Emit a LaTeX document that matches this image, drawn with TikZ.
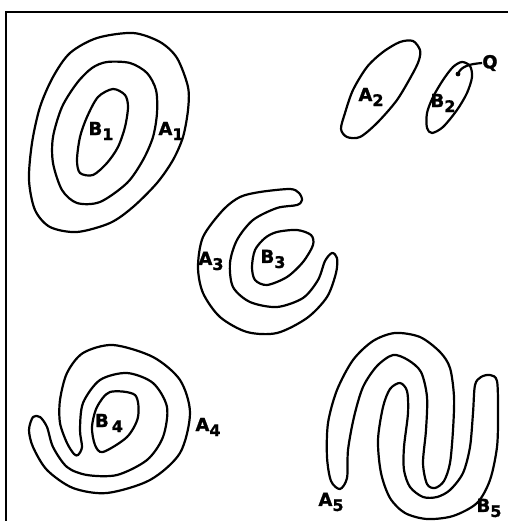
\documentclass[tikz,border=0pt]{standalone}
\usepackage{fontspec}
\setmainfont{DejaVu Sans}[FakeBold=1.2]
\newcommand{\lab}[2]{#1\raisebox{-5pt}{\fontsize{16}{16}\selectfont #2}}
\begin{document}
\begin{tikzpicture}[x=1pt,y=-1pt,
  curve/.style={line width=2.2pt,line join=round},
  labl/.style={inner sep=0pt,font=\fontsize{18}{18}\selectfont\bfseries}]
\useasboundingbox (0,0) rectangle (507,521);
% frame (top and left edges visible)
\draw[line width=2.2pt] (6,540) -- (6,12) -- (520,12);
% shape 1
\draw[curve] plot[smooth cycle] coordinates {(133,33) (160,42) (177,58) (188,87) (188,110) (183,137) (173,160) (157,183) (133,207) (110,223) (77,232) (50,227) (35,210) (29,180) (32,143) (40,107) (53,77) (70,53) (97,38)};
\draw[curve] plot[smooth cycle] coordinates {(107,62) (130,63) (147,73) (156,90) (157,113) (153,137) (143,160) (127,183) (100,202) (77,203) (62,190) (53,163) (53,137) (62,107) (77,83) (92,68)};
\draw[curve] plot[smooth cycle] coordinates {(113,89) (125,95) (128,107) (125,127) (118,147) (107,163) (93,175) (80,173) (77,160) (80,137) (87,117) (98,97)};
\node[labl] (B1) at (101,131) {\lab{B}{1}};
\node[labl] (A1) at (171,131) {\lab{A}{1}};
% shape 2
\draw[curve] plot[smooth cycle] coordinates {(413,41) (420,50) (419,60) (413,73) (397,100) (377,123) (360,137) (347,137) (341,129) (345,113) (353,90) (367,67) (383,52) (400,42)};
\draw[curve] plot[smooth cycle] coordinates {(462,62) (470,66) (472,77) (467,93) (457,110) (443,127) (432,133) (427,128) (427,113) (433,97) (443,80) (453,67)};
\node[labl] (A2) at (371,97) {\lab{A}{2}};
\node[labl] (B2) at (443,103) {\lab{B}{2}};
\node[labl] (Q) at (490,63) {Q};
\coordinate (q) at (458,74);
\fill (q) circle (2.4pt);
\draw[line width=2.2pt] (q) .. controls (461,66) and (470,64) .. (Q.west);
% shape 3
\draw[curve] plot[smooth cycle] coordinates {(260,192) (290,189) (299,193) (302,200) (297,205) (277,208) (253,220) (237,240) (230,263) (233,287) (250,302) (277,307) (303,298) (318,280) (325,261) (332,253) (337,258) (336,273) (327,297) (307,318) (277,333) (247,332) (220,317) (203,293) (198,267) (203,237) (223,210) (240,197)};
\draw[curve] plot[smooth cycle] coordinates {(277,232) (297,230) (311,235) (313,245) (303,262) (287,277) (267,285) (255,280) (252,267) (255,250) (265,238)};
\node[labl] (A3) at (211,261) {\lab{A}{3}};
\node[labl] (B3) at (273,259) {\lab{B}{3}};
% shape 4
\draw[curve] plot[smooth cycle] coordinates {(78,455) (82,447) (80,430) (83,403) (100,380) (127,373) (153,383) (167,407) (163,437) (147,460) (117,475) (87,475) (67,467) (53,447) (47,427) (40,417) (33,417) (29,430) (33,447) (47,470) (73,488) (107,493) (150,480) (180,453) (190,413) (180,380) (153,357) (113,345) (83,353) (67,373) (60,400) (60,423) (67,443) (74,454)};
\draw[curve] plot[smooth cycle] coordinates {(110,392) (135,395) (138,417) (127,437) (103,452) (95,445) (92,427) (97,407)};
\node[labl] (B4) at (109,423) {B\hspace{3pt}\raisebox{-5pt}{\fontsize{16}{16}\selectfont 4}};
\node[labl] (A4) at (208,427) {\lab{A}{4}};
% shape 5
\draw[curve] plot[smooth cycle] coordinates {(340,489) (331,481) (327,457) (328,423) (337,390) (353,360) (373,341) (395,333) (420,337) (440,352) (450,368) (454,397) (453,430) (450,463) (444,481) (435,488) (427,484) (423,463) (426,430) (427,397) (421,372) (408,360) (393,355) (377,366) (363,387) (354,417) (348,450) (347,478)};
\draw[curve] plot[smooth cycle] coordinates {(400,383) (407,391) (408,413) (404,447) (404,470) (410,487) (423,497) (437,497) (450,490) (463,473) (470,447) (473,413) (475,385) (481,377) (490,375) (497,381) (498,413) (497,447) (490,480) (477,503) (453,516) (427,519) (405,513) (390,498) (381,473) (378,440) (383,407) (390,389)};
\node[labl] (A5) at (331,502) {\lab{A}{5}};
\node[labl] (B5) at (489,508) {\lab{B}{5}};
\end{tikzpicture}
\end{document}
